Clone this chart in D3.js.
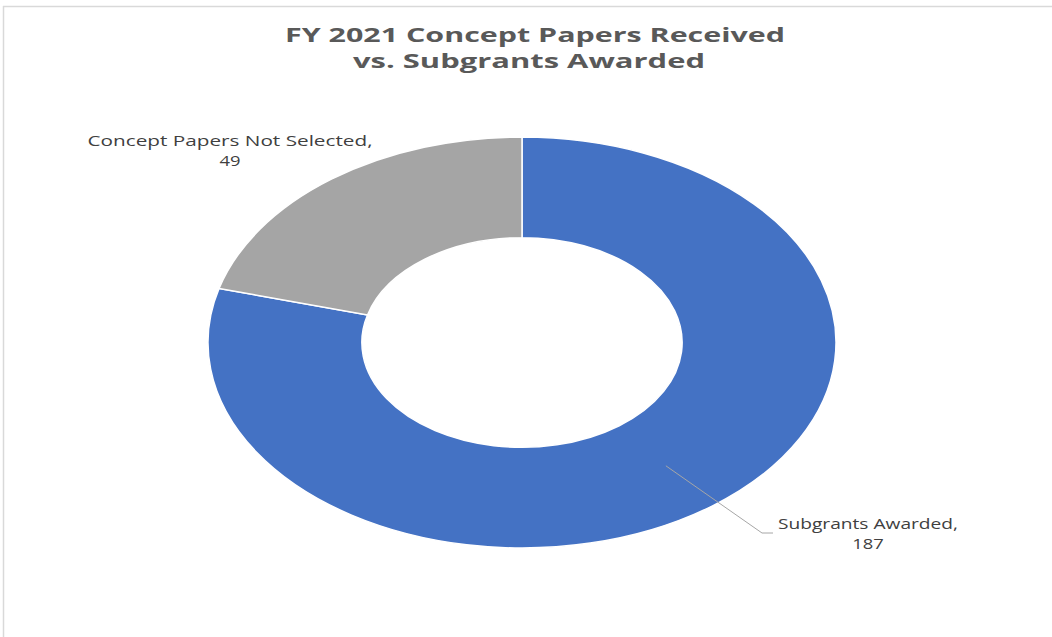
<!DOCTYPE html>
<html>
<head>
<meta charset="utf-8">
<script src="https://cdn.jsdelivr.net/npm/d3@7"></script>
<style>
  body { margin: 0; background: #fff; }
  svg { display: block; }
</style>
</head>
<body>
<div id="vis"></div>
<script>
var categories = ["Subgrants Awarded", "Concept Papers Not Selected"];
var values = [187, 49];
var colors = ["#4472c4", "#a5a5a5"];
var titleLines = ["FY 2021 Concept Papers Received", "vs. Subgrants Awarded"];

var w = 1052, h = 637;
var cx = 522, cy = 342.5;
var ry = 205.5, rx = 314;   // the picture is stretched sideways
var sx = rx / ry;

var svg = d3.select("#vis")
	.append("svg")
	.attr("width", w)
	.attr("height", h);

// chart frame (only top and left edges show)
svg.append("line").attr("x1", 3).attr("y1", 6.5).attr("x2", w).attr("y2", 6.5)
	.attr("stroke", "#d9d9d9").attr("stroke-width", 1.5);
svg.append("line").attr("x1", 3.5).attr("y1", 6).attr("x2", 3.5).attr("y2", h)
	.attr("stroke", "#d9d9d9").attr("stroke-width", 1.5);

// title, one text with two lines
var titleX = [535, 529], titleY = [42, 68], titleW = [500, 352];
svg.append("text")
	.attr("class", "title")
	.attr("text-anchor", "middle")
	.attr("font-family", "'Open Sans', sans-serif")
	.attr("font-weight", 700)
	.attr("font-size", 20)
	.attr("fill", "#595959")
	.selectAll("tspan")
	.data(titleLines)
	.enter()
	.append("tspan")
	.attr("x", function(d, i){ return titleX[i]; })
	.attr("y", function(d, i){ return titleY[i]; })
	.attr("textLength", function(d, i){ return titleW[i]; })
	.attr("lengthAdjust", "spacingAndGlyphs")
	.text(function(d){ return d; });

var pie = d3.pie().sort(null).value(function(d){ return d; });
var arcs = pie(values);

var arc = d3.arc()
	.innerRadius(ry * 0.51)
	.outerRadius(ry);

var g = svg.append("g")
	.attr("transform", "translate(" + cx + "," + cy + ") scale(" + sx + ",1)");

g.selectAll("path")
	.data(arcs)
	.enter()
	.append("path")
	.attr("d", arc)
	.attr("fill", function(d, i){ return colors[i]; })
	.attr("stroke", "#fff")
	.attr("stroke-width", 1.5)
	.attr("vector-effect", "non-scaling-stroke");

// leader line for the big slice, from its centroid
var c0 = arc.centroid(arcs[0]);
var lx = cx + c0[0] * sx, ly = cy + c0[1];
svg.append("polyline")
	.attr("points", [[lx, ly], [762, 533], [773, 533]].map(function(p){ return p.join(","); }).join(" "))
	.attr("fill", "none")
	.attr("stroke", "#a6a6a6")
	.attr("stroke-width", 1);

// data labels: name and value as two lines of one text
var labelPos = [
	{ x: 868, y: 529, w: 180 },
	{ x: 230, y: 146, w: 285 }
];
var lineGap = 19.5;

var labels = svg.selectAll(".label")
	.data(arcs)
	.enter()
	.append("text")
	.attr("class", "label")
	.attr("font-family", "'Open Sans', sans-serif")
	.attr("font-size", 14)
	.attr("fill", "#404040")
	.attr("text-anchor", "middle");

labels.append("tspan")
	.attr("x", function(d, i){ return labelPos[i].x; })
	.attr("y", function(d, i){ return labelPos[i].y; })
	.attr("textLength", function(d, i){ return labelPos[i].w; })
	.attr("lengthAdjust", "spacingAndGlyphs")
	.text(function(d, i){ return categories[i] + ","; });

labels.append("tspan")
	.attr("x", function(d, i){ return labelPos[i].x; })
	.attr("y", function(d, i){ return labelPos[i].y + lineGap; })
	.attr("textLength", function(d){ return String(d.data).length * 10.5; })
	.attr("lengthAdjust", "spacingAndGlyphs")
	.text(function(d){ return d.data; });
</script>
</body>
</html>
